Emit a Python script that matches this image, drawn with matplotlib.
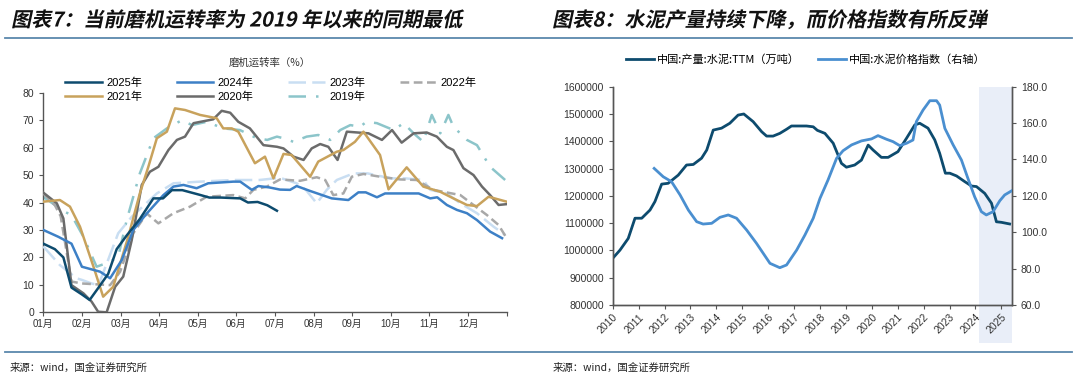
import matplotlib
matplotlib.use("Agg")
import matplotlib.pyplot as plt
from matplotlib.patches import Rectangle
from matplotlib.lines import Line2D
from matplotlib.patheffects import AbstractPathEffect
import matplotlib.transforms as mtransforms

plt.rcParams['font.family'] = ['Liberation Sans', 'Noto Sans CJK SC']
CJK = ['Noto Sans CJK SC', 'DejaVu Sans']

# ---------------- left chart: mill operating rate (%) ----------------
month_labels = ['01月', '02月', '03月', '04月', '05月', '06月',
                '07月', '08月', '09月', '10月', '11月', '12月']

x_2025 = [0, 0.3, 0.52, 0.73, 1.0, 1.2, 1.43, 1.68, 1.9, 2.16, 2.5, 2.85, 3.1, 3.33, 3.6,
          4.05, 4.3, 4.6, 5.1, 5.3, 5.55, 5.8, 6.05]
y_2025 = [25, 23, 20, 9, 6.5, 4.5, 9, 14, 23, 28, 34, 41.5, 41.5, 44.5, 44.5,
          42.8, 41.8, 41.8, 41.5, 40, 40.2, 39, 37]

x_2024 = [0, 0.39, 0.73, 1.0, 1.47, 1.73, 2.03, 2.33, 2.68, 3.11, 3.37, 3.63, 3.97, 4.27,
          4.92, 5.1, 5.4, 5.57, 5.85, 6.13, 6.39, 6.56, 6.91, 7.47, 7.9, 8.16, 8.35, 8.64,
          8.85, 9.72, 10.02, 10.2, 10.45, 10.71, 10.97, 11.23, 11.57, 11.88]
y_2024 = [30, 27.5, 25, 16.6, 14.8, 12.4, 19, 30, 36, 42.7, 45.8, 46.4, 45.2, 47,
          47.6, 47.6, 44.6, 46, 45.5, 44.7, 44.6, 46, 44.2, 41.5, 40.9, 43.7, 43.7, 41.9,
          43.3, 43.3, 41.5, 41.9, 39.1, 37.3, 36.1, 33.6, 29.4, 27]

x_2023 = [0, 0.43, 0.86, 1.0, 1.25, 1.43, 1.94, 2.29, 2.94, 3.37, 4.06, 4.92, 5.6, 6.13,
          6.56, 6.8, 7.08, 7.34, 7.6, 8.03, 8.4, 9.0, 9.37, 9.84, 10.02, 10.45, 10.8, 11.23,
          11.66, 11.96]
y_2023 = [24, 17.2, 12.4, 11.8, 10.5, 9.9, 28.8, 34.8, 43.3, 47, 47.6, 48.2, 48.2, 49,
          47, 44.6, 39.7, 44.6, 48.2, 50.6, 50.6, 48.8, 48.8, 48.2, 44.6, 43.3, 39.7, 36.1,
          31.2, 28.2]

x_2022 = [0, 0.3, 0.45, 0.73, 1.0, 1.73, 1.99, 2.33, 2.68, 2.98, 3.37, 3.8, 4.23, 4.92,
          5.23, 5.44, 5.79, 6.13, 6.65, 7.08, 7.3, 7.51, 7.77, 7.99, 8.29, 8.72, 9.24, 9.67,
          10.1, 10.8, 11.49, 11.79, 12.0]
y_2022 = [43.3, 39, 35, 11.2, 10.5, 9.9, 14.8, 28.8, 36, 32.4, 36.1, 38.5, 42.1, 42.7,
          41.5, 44.6, 45.8, 48.4, 47.9, 49.2, 48.2, 42.7, 43.3, 49.4, 50.4, 49.4, 48.4, 48.2,
          44.6, 42.7, 35.4, 31.8, 27]

x_2021 = [0, 0.43, 0.69, 0.95, 1.3, 1.55, 1.81, 2.2, 2.5, 2.72, 2.94, 3.2, 3.41, 3.67,
          4.06, 4.49, 4.66, 4.88, 5.05, 5.48, 5.74, 5.96, 6.22, 6.43, 6.91, 7.12, 7.6, 7.77,
          8.07, 8.29, 8.72, 8.94, 9.41, 9.84, 10.28, 10.62, 10.97, 11.23, 11.53, 12.0]
y_2021 = [40.3, 40.9, 38.5, 31.2, 16.6, 5.7, 9.3, 27.5, 43.3, 53, 63.4, 65.8, 74.3, 73.7,
          71.9, 70.7, 67, 67, 65.8, 54.3, 56.7, 48.8, 57.7, 57.3, 49.4, 54.9, 58.5, 59.1,
          62.1, 65.8, 57.3, 44.8, 52.8, 45.8, 43.9, 41.5, 39.1, 38.7, 42.1, 40.3]

x_2020 = [0, 0.35, 0.52, 0.73, 1.04, 1.25, 1.42, 1.64, 1.86, 2.07, 2.29, 2.55, 2.76, 2.98,
          3.24, 3.46, 3.67, 3.89, 4.4, 4.62, 4.84, 5.05, 5.35, 5.7, 6.05, 6.22, 6.48, 6.74,
          6.95, 7.17, 7.38, 7.62, 7.86, 8.42, 8.77, 9.03, 9.28, 9.59, 9.93, 10.19, 10.45,
          10.62, 10.88, 11.14, 11.36, 11.57, 11.79, 12.0]
y_2020 = [43.6, 39.7, 34.2, 9.9, 6.9, 3.9, 0.2, 0, 9.3, 13, 26.3, 46.4, 51.2, 53,
          59.1, 62.8, 64, 68.9, 70.3, 73.4, 72.7, 69.4, 67, 60.9, 60.3, 59.7, 56.7, 55.5,
          59.7, 61.3, 60.3, 55.5, 65.8, 65.2, 62.8, 66.4, 61.8, 65.2, 65.5, 64, 60.3,
          59.1, 52.5, 50, 45.8, 42.7, 39.1, 39.4]

x_2019 = [0, 0.56, 0.73, 1.04, 1.38, 1.73, 1.94, 2.16, 2.5, 2.85, 3.2, 3.59, 3.85, 4.23,
          4.66, 5.09, 5.53, 5.8, 6.05, 6.22, 6.48, 6.82, 7.12, 7.43, 7.69, 7.95, 8.2, 8.37,
          8.64, 9.07, 9.33, 9.59, 9.84, 10.06, 10.28, 10.49, 10.62, 10.97, 11.23, 11.57, 11.96]
y_2019 = [42, 36.6, 35.4, 27.5, 16.6, 18.4, 20.3, 33.6, 50.6, 63.4, 67, 70, 68.2, 69.4,
          67, 66.4, 63.4, 62.8, 64, 63.4, 62.1, 64, 64.6, 62.8, 66.4, 68.2, 67.6, 69.4,
          68.9, 66.4, 68.9, 65.2, 62.1, 71.9, 65.2, 71.9, 67.6, 62.8, 60.9, 53, 48.2]

# ---------------- right chart: cement output & price index ----------------
prod_year = [2010.0, 2010.28, 2010.6, 2010.86, 2011.12, 2011.44, 2011.63, 2011.89, 2012.14,
             2012.53, 2012.85, 2013.11, 2013.43, 2013.63, 2013.88, 2014.2, 2014.52, 2014.84,
             2015.06, 2015.42, 2015.75, 2015.94, 2016.19, 2016.45, 2016.71, 2016.9, 2017.48,
             2017.74, 2017.9, 2018.19, 2018.51, 2018.83, 2019.02, 2019.34, 2019.6, 2019.86,
             2020.05, 2020.37, 2020.63, 2021.01, 2021.34, 2021.66, 2021.85, 2022.17, 2022.43,
             2022.62, 2022.84, 2023.01, 2023.27, 2023.59, 2023.85, 2024.04, 2024.36, 2024.62,
             2024.81, 2025.0, 2025.32]
prod_val = [971000, 1001000, 1044000, 1118000, 1118000, 1148000, 1179000, 1243000, 1246000,
            1276000, 1313000, 1315000, 1338000, 1368000, 1441000, 1448000, 1466000, 1496000,
            1500000, 1472000, 1435000, 1419000, 1419000, 1429000, 1444000, 1456000, 1456000,
            1453000, 1440000, 1429000, 1393000, 1319000, 1305000, 1313000, 1331000, 1386000,
            1368000, 1341000, 1341000, 1362000, 1411000, 1460000, 1466000, 1448000, 1405000,
            1356000, 1283000, 1283000, 1273000, 1252000, 1236000, 1234000, 1209000, 1173000,
            1105000, 1103000, 1097000]

price_year = [2011.6, 2011.95, 2012.27, 2012.6, 2012.92, 2013.24, 2013.49, 2013.82, 2014.14,
              2014.46, 2014.78, 2015.17, 2015.55, 2016.07, 2016.45, 2016.71, 2017.1, 2017.42,
              2017.74, 2018.0, 2018.31, 2018.64, 2018.89, 2019.22, 2019.6, 2019.99, 2020.24,
              2020.57, 2020.82, 2021.08, 2021.34, 2021.59, 2021.72, 2021.98, 2022.24, 2022.5,
              2022.62, 2022.82, 2023.14, 2023.46, 2023.71, 2023.97, 2024.23, 2024.42, 2024.68,
              2024.94, 2025.13, 2025.39]
price_val = [135.1, 130.5, 127.8, 120.5, 112.2, 105.8, 104.5, 104.9, 108.2,
             109.5, 107.7, 101.2, 93.9, 82.9, 80.5, 82.0, 90.2, 98.5,
             107.7, 118.6, 128.7, 140.6, 144.8, 148.0, 150.2, 151.3, 153.1,
             151.1, 149.8, 147.6, 148.9, 150.7, 160.8, 167.2, 172.3, 172.3,
             169.9, 157.1, 148.0, 139.7, 129.6, 119.5, 111.3, 109.5, 111.3,
             117.3, 120.5, 122.7]

year_ticks = list(range(2010, 2026))
shade_start = 2024.14

W, H = 1080, 384
fig = plt.figure(figsize=(W / 100, H / 100), dpi=100)


def fx(px):
    return px / W


def fy(py):
    return 1 - py / H


class Oblique(AbstractPathEffect):
    # fake italic for the headings (the CJK font has no italic face)
    def draw_path(self, renderer, gc, tpath, affine, rgbFace=None):
        renderer.draw_path(gc, tpath, mtransforms.Affine2D().skew_deg(12, 0) + affine, rgbFace)


# headings, separators, sources
title_kw = dict(fontsize=14.5, fontweight='bold', family=CJK, color='#111111', va='center',
                path_effects=[Oblique()])
fig.text(fx(11), fy(20), '图表7：当前磨机运转率为 2019 年以来的同期最低', **title_kw)
fig.text(fx(552), fy(20), '图表8：水泥产量持续下降，而价格指数有所反弹', **title_kw)
for py in (38, 352):
    fig.add_artist(Line2D([fx(5), fx(1072)], [fy(py), fy(py)], color='#5a88ad', lw=1.3))
src_kw = dict(fontsize=7.5, family=CJK, color='#222222', va='center')
fig.text(fx(10), fy(368), '来源：wind，国金证券研究所', **src_kw)
fig.text(fx(553), fy(368), '来源：wind，国金证券研究所', **src_kw)

# ---------------- left axes ----------------
ax1 = fig.add_axes([fx(43.3), fy(312.3), fx(506.7 - 43.3), (312.3 - 92.7) / H])
series = [
    ('2025年', x_2025, y_2025, '#0d4b6e', '-'),
    ('2021年', x_2021, y_2021, '#c8a25c', '-'),
    ('2024年', x_2024, y_2024, '#3d80c6', '-'),
    ('2020年', x_2020, y_2020, '#6b6b6b', '-'),
    ('2023年', x_2023, y_2023, '#c9def2', (0, (7, 2.5))),
    ('2019年', x_2019, y_2019, '#8cc5ca', (0, (7, 4, 1, 4))),
    ('2022年', x_2022, y_2022, '#a8a8a8', (0, (3.5, 1.8))),
]
z = {'2025年': 9, '2024年': 8, '2023年': 3, '2022年': 4, '2021年': 6, '2020年': 5, '2019年': 2}
for name, xs, ys, col, ls in series:
    ax1.plot(xs, ys, color=col, lw=1.8, ls=ls, label=name, zorder=z[name])
ax1.set_xlim(0, 12)
ax1.set_ylim(0, 80)
ax1.set_yticks(range(0, 81, 10))
ax1.set_xticks(range(13))
ax1.set_xticklabels(month_labels + [''], fontsize=7)
ax1.tick_params(axis='y', labelsize=7.5, length=3, color='#555555', labelcolor='#333333')
ax1.tick_params(axis='x', length=3, color='#555555', labelcolor='#333333', pad=2)
for s in ('top', 'right'):
    ax1.spines[s].set_visible(False)
for s in ('left', 'bottom'):
    ax1.spines[s].set_color('#555555')
    ax1.spines[s].set_linewidth(1.0)

fig.text(fx(270), fy(63), '磨机运转率（%）', fontsize=7.5, family=CJK, color='#333333',
         ha='center', va='center')
handles, labels = ax1.get_legend_handles_labels()
fig.legend(handles, labels, ncol=4, loc='upper left',
           bbox_to_anchor=(fx(65), fy(78)), bbox_transform=fig.transFigure,
           frameon=False, fontsize=8, handlelength=3.3, handletextpad=0.4,
           columnspacing=3.1, labelspacing=0.25, borderpad=0, borderaxespad=0)

# ---------------- right axes ----------------
ax2 = fig.add_axes([fx(612.7), fy(305), fx(1011.7 - 612.7), (305 - 86.7) / H])
ax3 = ax2.twinx()
span = Rectangle((shade_start, -0.175), 2025.4 - shade_start, 1.175,
                 transform=mtransforms.blended_transform_factory(ax2.transData, ax2.transAxes),
                 facecolor='#e9eef8', edgecolor='none', clip_on=False, zorder=0)
ax2.add_patch(span)
l1, = ax2.plot(prod_year, prod_val, color='#0d4b6e', lw=2.0, label='中国:产量:水泥:TTM（万吨）', zorder=3)
l2, = ax3.plot(price_year, price_val, color='#4a8fd0', lw=2.0, label='中国:水泥价格指数（右轴）', zorder=3)
ax2.set_xlim(2010, 2025.4)
ax2.set_ylim(800000, 1600000)
ax2.set_yticks(range(800000, 1600001, 100000))
ax2.set_yticklabels([str(v) for v in range(800000, 1600001, 100000)])
ax3.set_ylim(60, 180)
ax3.set_yticks(range(60, 181, 20))
ax3.set_yticklabels(['%.1f' % v for v in range(60, 181, 20)])
ax2.set_xticks(year_ticks)
ax2.set_xticklabels([str(y) for y in year_ticks], rotation=45, ha='right',
                    rotation_mode='anchor', fontsize=7.5)
ax2.tick_params(axis='y', labelsize=7.5, length=3, color='#555555', labelcolor='#333333')
ax3.tick_params(axis='y', labelsize=7.5, length=3, color='#555555', labelcolor='#333333')
ax2.tick_params(axis='x', length=3, color='#555555', labelcolor='#333333', pad=2)
for a in (ax2, ax3):
    a.spines['top'].set_visible(False)
    for s in ('left', 'right', 'bottom'):
        a.spines[s].set_color('#555555')
        a.spines[s].set_linewidth(1.0)
fig.legend([l1, l2], [l1.get_label(), l2.get_label()], ncol=2, loc='center',
           bbox_to_anchor=(fx(806), fy(60)), bbox_transform=fig.transFigure,
           frameon=False, handlelength=2.5, handletextpad=0.3,
           columnspacing=1.6, borderpad=0, prop={'family': CJK, 'size': 8})

fig.savefig('out.png', dpi=100)
